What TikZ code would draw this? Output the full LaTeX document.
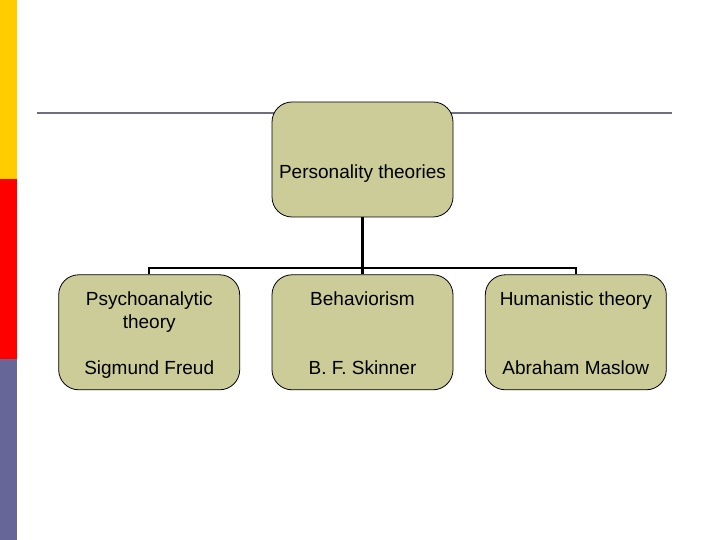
\documentclass[tikz,border=0pt]{standalone}
\usepackage{fontspec}
\setmainfont{Liberation Sans}
\usepackage{xcolor}
\usepackage{tikz}
\usetikzlibrary{positioning}

\definecolor{boxfill}{HTML}{CCCC99}
\definecolor{barYellow}{HTML}{FFCC00}
\definecolor{barRed}{HTML}{FF0000}
\definecolor{barBlue}{HTML}{666699}
\definecolor{ruleGray}{HTML}{6E6E80}

% first line a little taller, so the text sits lower in the box
\newcommand{\firststrut}{\rule{0pt}{22pt}}

\begin{document}
\begin{tikzpicture}[x=1pt, y=1pt, node distance=57pt and 31.5pt,
  font=\fontsize{19}{23}\selectfont,
  box/.style={draw, line width=0.8pt, rounded corners=20pt, fill=boxfill, minimum width=181pt, minimum height=115pt, align=center, inner sep=0pt}]
  \useasboundingbox (0,0) rectangle (720,540);
  % side bar
  \fill[barBlue] (0,0) rectangle (17,181);
  \fill[barRed] (0,181) rectangle (17,361);
  \fill[barYellow] (0,361) rectangle (17,540);
  \draw[ruleGray, line width=2pt] (37,427) -- (672,427);
  % tree
  \node[box] (root) at (362.5,380.5) {\firststrut\\\strut Personality theories};
  \node[box, below=of root] (beh) {\firststrut Behaviorism\\\strut\\\strut\\\strut B. F. Skinner};
  \node[box, left=of beh] (psy) {\firststrut Psychoanalytic\\\strut theory\\\strut\\\strut Sigmund Freud};
  \node[box, right=of beh] (hum) {\firststrut Humanistic theory\\\strut\\\strut\\\strut Abraham Maslow};
  \draw[line width=1.8pt] (psy.north) -- ++(0,6.5) -| (hum.north);
  \draw[line width=2.8pt] (root.south) -- (beh.north);
\end{tikzpicture}
\end{document}
